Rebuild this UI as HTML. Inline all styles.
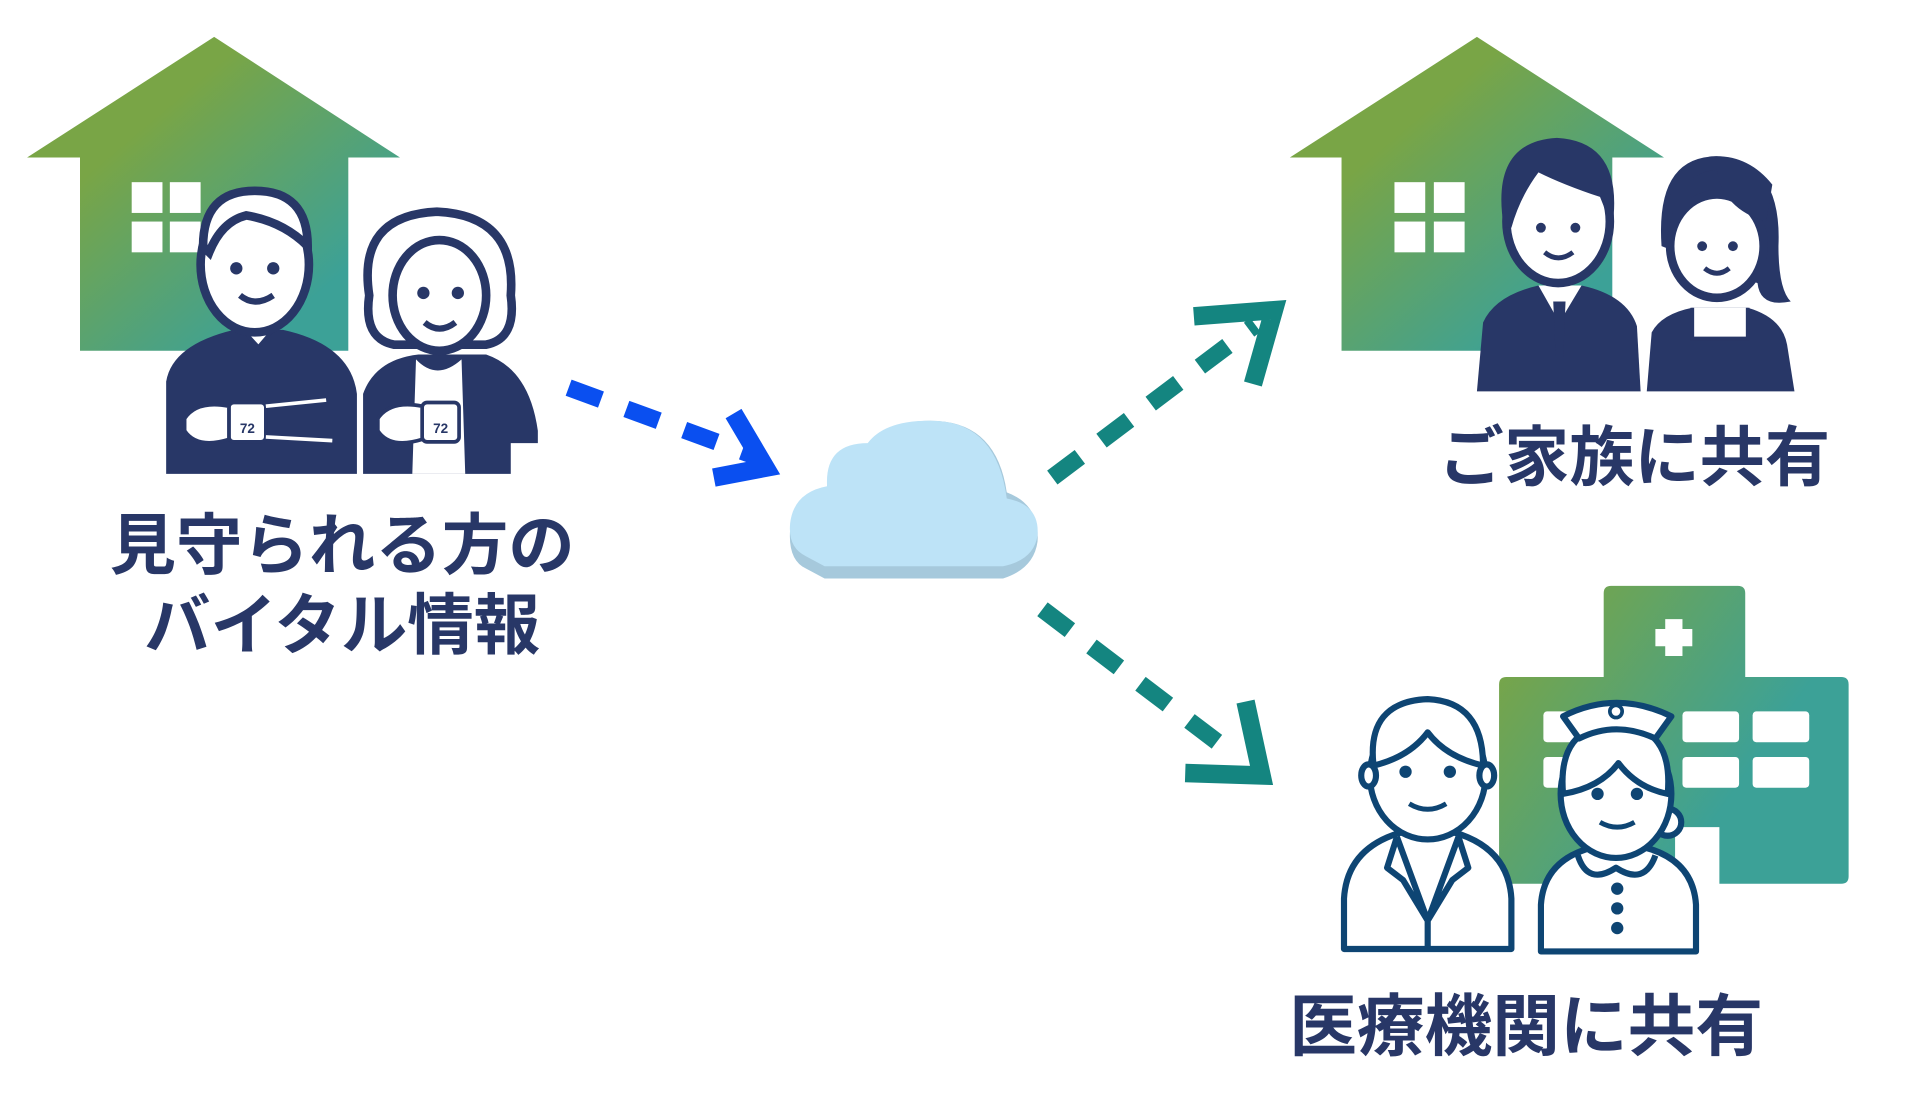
<!DOCTYPE html>
<html><head><meta charset="utf-8"><style>
html,body{margin:0;padding:0;background:#fff;}
svg{display:block;}
text{font-family:"Liberation Sans","Noto Sans CJK JP",sans-serif;font-weight:bold;fill:#283767;}
</style></head><body>
<svg width="1920" height="1093" viewBox="0 0 1560 888" preserveAspectRatio="none" xmlns="http://www.w3.org/2000/svg">
<defs>
<linearGradient id="g" x1="0" y1="0" x2="1" y2="1">
<stop offset="0.3" stop-color="#79a546"/><stop offset="0.8" stop-color="#3ca197"/></linearGradient>
<linearGradient id="g2" x1="0" y1="0" x2="1" y2="0.6">
<stop offset="0.1" stop-color="#79a546"/><stop offset="0.8" stop-color="#3ca197"/></linearGradient>
</defs>
<!-- left house -->
<path d="M174 30 L325 128 L283 128 L283 285 L65 285 L65 128 L22 128 Z" fill="url(#g)" stroke-linejoin="round"/>
<rect x="107" y="148" width="25" height="25" fill="#fff"/><rect x="138" y="148" width="25" height="25" fill="#fff"/>
<rect x="107" y="180" width="25" height="25" fill="#fff"/><rect x="138" y="180" width="25" height="25" fill="#fff"/>
<!-- elderly man -->
<path d="M135 385 L135 310 Q140 280 190 268 L230 268 Q285 280 290 320 L290 385 Z" fill="#283767"/>
<path d="M197 268 L210 282 L222 268" fill="#fff" stroke="#283767" stroke-width="3"/>
<ellipse cx="207" cy="215" rx="44" ry="55" fill="#fff" stroke="#283767" stroke-width="7"/>
<path d="M165 200 Q165 155 207 155 Q250 155 250 200 Q230 180 200 175 Q180 180 170 205Z" fill="#fff" stroke="#283767" stroke-width="7"/>
<circle cx="192" cy="218" r="5" fill="#283767"/><circle cx="222" cy="218" r="5" fill="#283767"/>
<path d="M195 240 Q207 250 222 240" fill="none" stroke="#283767" stroke-width="5"/>
<rect x="186" y="327" width="30" height="32" rx="4" fill="#fff" stroke="#283767" stroke-width="3"/>
<text x="201" y="352" font-size="11" text-anchor="middle" style="fill:#283767">72</text>
<path d="M150 340 Q160 325 186 330 L186 357 Q160 365 150 350Z" fill="#fff" stroke="#283767" stroke-width="3"/>
<path d="M216 330 L265 325 M216 355 L270 358" stroke="#fff" stroke-width="3"/>
<!-- elderly woman -->
<path d="M295 385 L295 320 Q305 292 340 288 L395 288 Q430 300 437 350 L437 360 L415 360 L415 385 Z" fill="#283767"/>
<path d="M338 292 Q355 310 375 292 L378 385 L335 385Z" fill="#fff"/>
<path d="M300 240 Q290 175 355 172 Q420 175 415 240 Q420 275 395 280 L320 280 Q295 275 300 240Z" fill="#fff" stroke="#283767" stroke-width="7"/>
<ellipse cx="357" cy="240" rx="38" ry="45" fill="#fff" stroke="#283767" stroke-width="7"/>
<circle cx="344" cy="238" r="5" fill="#283767"/><circle cx="372" cy="238" r="5" fill="#283767"/>
<path d="M345 262 Q357 272 370 262" fill="none" stroke="#283767" stroke-width="5"/>
<rect x="343" y="327" width="30" height="32" rx="4" fill="#fff" stroke="#283767" stroke-width="3"/>
<text x="358" y="352" font-size="11" text-anchor="middle" style="fill:#283767">72</text>
<path d="M307 340 Q317 325 343 330 L343 357 Q317 365 307 350Z" fill="#fff" stroke="#283767" stroke-width="3"/>
<text x="278" y="462" font-size="54" text-anchor="middle">見守られる方の</text>
<text x="278" y="527" font-size="54" text-anchor="middle">バイタル情報</text>
<!-- blue arrow -->
<line x1="462" y1="315" x2="612" y2="370" stroke="#0a4ff0" stroke-width="14" stroke-dasharray="28,22"/>
<path d="M596 336 L622 380 L580 388" fill="none" stroke="#0a4ff0" stroke-width="15"/>
<!-- cloud -->
<path d="M655 462 Q640 455 642 430 Q645 405 672 400 Q670 365 705 365 Q720 340 762 342 Q810 345 818 400 Q845 410 843 440 Q840 462 815 470 L670 470Z" fill="#a6c9dc"/>
<path d="M655 452 Q640 445 642 425 Q645 400 672 395 Q670 360 705 360 Q720 340 762 342 Q810 345 818 405 Q845 410 843 435 Q840 455 815 460 L670 460Z" fill="#bde3f7"/>
<!-- teal arrows -->
<line x1="855" y1="388" x2="1020" y2="264" stroke="#148580" stroke-width="14" stroke-dasharray="28,22"/>
<path d="M970 257 L1035 252 L1018 312" fill="none" stroke="#148580" stroke-width="15"/>
<line x1="847" y1="495" x2="1005" y2="615" stroke="#148580" stroke-width="14" stroke-dasharray="28,22"/>
<path d="M963 628 L1025 630 L1012 570" fill="none" stroke="#148580" stroke-width="15"/>
<!-- right house -->
<path d="M1200 30 L1352 128 L1310 128 L1310 285 L1090 285 L1090 128 L1048 128 Z" fill="url(#g)"/>
<rect x="1133" y="148" width="25" height="25" fill="#fff"/><rect x="1165" y="148" width="25" height="25" fill="#fff"/>
<rect x="1133" y="180" width="25" height="25" fill="#fff"/><rect x="1165" y="180" width="25" height="25" fill="#fff"/>
<!-- family man -->
<path d="M1200 318 L1205 262 Q1215 240 1250 232 L1285 232 Q1322 240 1330 265 L1333 318Z" fill="#283767"/>
<path d="M1250 232 L1267 262 L1285 232Z" fill="#fff"/>
<path d="M1262 245 L1272 245 L1270 290 L1264 290Z" fill="#283767"/>
<ellipse cx="1266" cy="180" rx="42" ry="50" fill="#fff" stroke="#283767" stroke-width="7"/>
<path d="M1222 185 Q1210 115 1265 112 Q1320 115 1310 185 L1300 160 Q1270 150 1250 140 Q1235 160 1228 185Z" fill="#283767"/>
<circle cx="1252" cy="185" r="4" fill="#283767"/><circle cx="1280" cy="185" r="4" fill="#283767"/>
<path d="M1255 205 Q1266 214 1278 205" fill="none" stroke="#283767" stroke-width="4"/>
<!-- family woman -->
<path d="M1338 318 L1342 270 Q1350 255 1375 250 L1420 250 Q1448 258 1452 280 L1458 318Z" fill="#283767"/>
<path d="M1375 250 L1375 275 L1420 275 L1420 250" fill="#fff" stroke="#283767" stroke-width="3"/>
<path d="M1350 200 Q1345 127 1395 127 Q1448 130 1445 200 Q1445 235 1455 245 Q1430 250 1428 230Z" fill="#283767"/>
<ellipse cx="1395" cy="200" rx="38" ry="42" fill="#fff" stroke="#283767" stroke-width="7"/>
<path d="M1355 195 Q1360 140 1395 138 Q1400 170 1435 180 L1440 150 Q1420 125 1390 127 Q1350 135 1355 195Z" fill="#283767"/>
<circle cx="1383" cy="200" r="4" fill="#283767"/><circle cx="1408" cy="200" r="4" fill="#283767"/>
<path d="M1385 218 Q1395 226 1405 218" fill="none" stroke="#283767" stroke-width="4"/>
<text x="1328" y="390" font-size="53" text-anchor="middle">ご家族に共有</text>
<!-- hospital -->
<path d="M1303 482 Q1303 476 1309 476 L1412 476 Q1418 476 1418 482 L1418 550 L1496 550 Q1502 550 1502 556 L1502 712 Q1502 718 1496 718 L1397 718 L1397 672 L1361 672 L1361 718 L1218 718 L1218 556 Q1218 550 1224 550 L1303 550Z" fill="url(#g2)"/>
<path d="M1353 503 L1367 503 L1367 511 L1375 511 L1375 525 L1367 525 L1367 533 L1353 533 L1353 525 L1345 525 L1345 511 L1353 511Z" fill="#fff"/>
<rect x="1254" y="578" width="46" height="25" rx="3" fill="#fff"/><rect x="1367" y="578" width="46" height="25" rx="3" fill="#fff"/><rect x="1424" y="578" width="46" height="25" rx="3" fill="#fff"/>
<rect x="1254" y="615" width="46" height="25" rx="3" fill="#fff"/><rect x="1367" y="615" width="46" height="25" rx="3" fill="#fff"/><rect x="1424" y="615" width="46" height="25" rx="3" fill="#fff"/>
<!-- doctor -->
<g fill="#fff" stroke="#0e4573" stroke-width="5" stroke-linejoin="round">
<path d="M1092 771 L1092 730 Q1095 680 1160 672 Q1225 680 1228 730 L1228 771Z"/>
<path d="M1135 680 L1160 748 L1185 680 M1160 748 L1160 771 M1135 680 L1127 705 L1140 715 L1160 748 L1180 715 L1193 705 L1185 680" fill="none"/>
<ellipse cx="1160" cy="630" rx="47" ry="52"/>
<path d="M1116 622 Q1110 570 1160 568 Q1205 570 1205 622 Q1175 615 1160 595 Q1145 615 1116 622Z"/>
<ellipse cx="1112" cy="630" rx="6" ry="9"/><ellipse cx="1208" cy="630" rx="6" ry="9"/>
</g>
<circle cx="1142" cy="627" r="5" fill="#0e4573"/><circle cx="1178" cy="627" r="5" fill="#0e4573"/>
<path d="M1145 653 Q1160 662 1175 653" fill="none" stroke="#0e4573" stroke-width="4"/>
<!-- nurse -->
<g fill="#fff" stroke="#0e4573" stroke-width="5" stroke-linejoin="round">
<path d="M1252 773 L1252 735 Q1255 690 1315 685 Q1375 690 1378 735 L1378 773Z"/>
<path d="M1282 695 Q1290 720 1313 705 Q1336 720 1345 695" fill="none"/>
<circle cx="1355" cy="668" r="11"/>
<ellipse cx="1313" cy="645" rx="45" ry="52"/>
<path d="M1270 645 Q1265 590 1313 588 Q1360 590 1355 645 Q1330 640 1315 620 Q1300 640 1270 645Z"/>
<path d="M1270 582 Q1313 560 1358 582 L1345 600 Q1313 585 1283 600Z"/>
</g>
<circle cx="1313" cy="578" r="5" fill="none" stroke="#0e4573" stroke-width="3"/>
<circle cx="1298" cy="645" r="5" fill="#0e4573"/><circle cx="1330" cy="645" r="5" fill="#0e4573"/>
<path d="M1300 668 Q1314 676 1328 668" fill="none" stroke="#0e4573" stroke-width="4"/>
<circle cx="1314" cy="722" r="5" fill="#0e4573"/><circle cx="1314" cy="738" r="5" fill="#0e4573"/><circle cx="1314" cy="754" r="5" fill="#0e4573"/>
<text x="1240" y="853" font-size="55" text-anchor="middle">医療機関に共有</text>
</svg>
</body></html>
